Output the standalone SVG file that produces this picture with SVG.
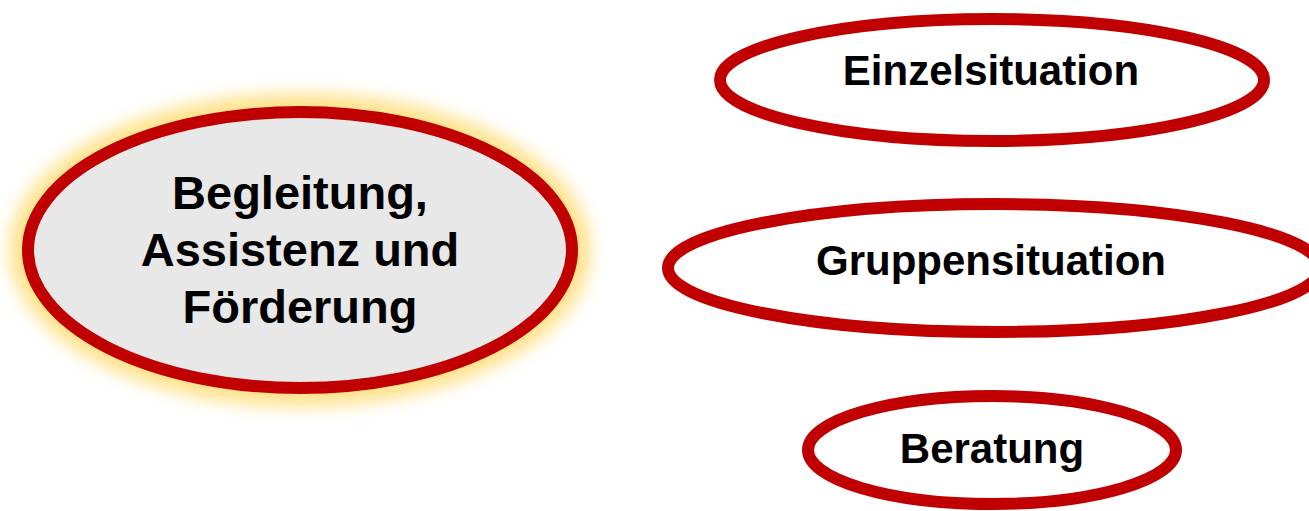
<svg xmlns="http://www.w3.org/2000/svg" width="1309" height="511" viewBox="0 0 1309 511">
  <defs>
    <style>
      .node { fill: #ffffff; stroke: #c00000; stroke-width: 12; }
      .main { fill: #e8e8e8; stroke: #c00000; stroke-width: 12; }
      .lbl { font-family: "Liberation Sans", Arial, sans-serif; font-weight: bold; fill: #000000; text-anchor: middle; }
      .big { font-size: 47px; }
      .small { font-size: 42px; }
    </style>
    <filter id="glow" x="-20%" y="-30%" width="140%" height="160%">
      <feGaussianBlur stdDeviation="9"/>
    </filter>
  </defs>
  <rect width="1309" height="511" fill="#ffffff"/>
  <g id="connectors"></g>
  <g id="node-main">
    <ellipse cx="300" cy="250" rx="290" ry="156" fill="#ffd966" opacity="0.8" filter="url(#glow)"/>
    <ellipse class="main" cx="300" cy="250" rx="272" ry="138"/>
    <text class="lbl big" x="300" y="209">Begleitung,</text>
    <text class="lbl big" x="300" y="266">Assistenz und</text>
    <text class="lbl big" x="300" y="323">Förderung</text>
  </g>
  <g id="node-einzel">
    <ellipse class="node" cx="992" cy="80" rx="272" ry="61"/>
    <text class="lbl small" x="991" y="85">Einzelsituation</text>
  </g>
  <g id="node-gruppe">
    <ellipse class="node" cx="994" cy="268" rx="326" ry="64"/>
    <text class="lbl small" x="991" y="275">Gruppensituation</text>
  </g>
  <g id="node-beratung">
    <ellipse class="node" cx="992" cy="450" rx="184" ry="54"/>
    <text class="lbl small" x="992" y="463">Beratung</text>
  </g>
</svg>
